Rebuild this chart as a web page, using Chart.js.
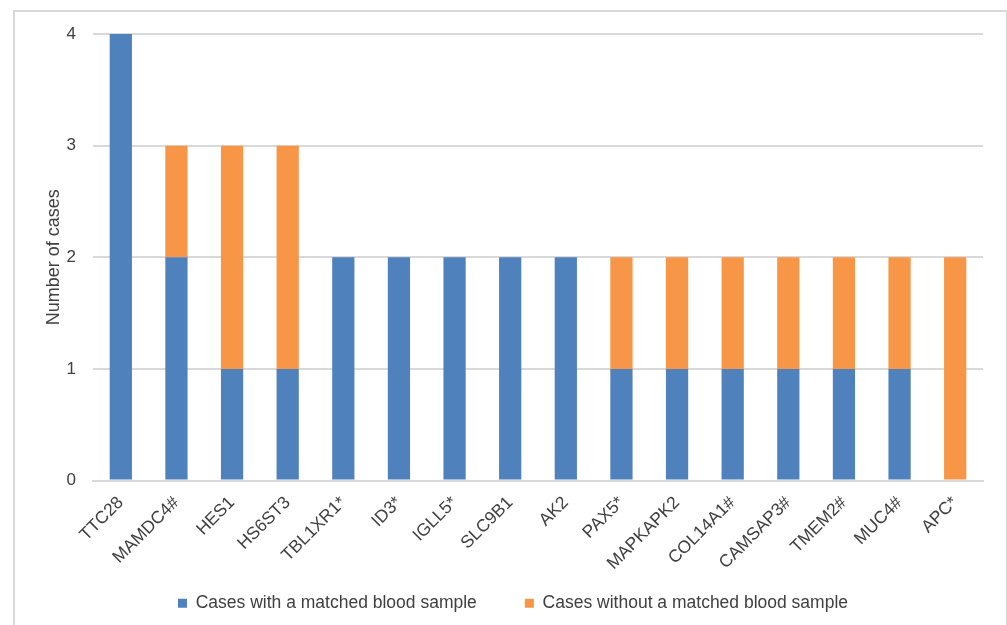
<!DOCTYPE html>
<html>
<head>
<meta charset="utf-8">
<script src="https://cdn.jsdelivr.net/npm/chart.js@4/dist/chart.umd.min.js"></script>
<style>
	html, body { margin: 0; padding: 0; background: #fff; }
	#frame { position: absolute; left: 13px; top: 10px; width: 991px; height: 620px; border: 2px solid #d9d9d9; }
	#wrap { position: absolute; left: 0; top: 0; width: 1007px; height: 625px; }
</style>
</head>
<body>
<div id="frame"></div>
<div id="wrap"><canvas id="barChart" width="1007" height="625"></canvas></div>
<script>
// genes on the x axis
var genes = ['TTC28', 'MAMDC4#', 'HES1', 'HS6ST3', 'TBL1XR1*', 'ID3*', 'IGLL5*', 'SLC9B1', 'AK2', 'PAX5*', 'MAPKAPK2', 'COL14A1#', 'CAMSAP3#', 'TMEM2#', 'MUC4#', 'APC*'];
// number of cases per gene
var withBlood = [4, 2, 1, 1, 2, 2, 2, 2, 2, 1, 1, 1, 1, 1, 1, 0];
var withoutBlood = [0, 1, 2, 2, 0, 0, 0, 0, 0, 1, 1, 1, 1, 1, 1, 2];
var yTicks = [0, 1, 2, 3, 4];

// let the rotated gene names run down past the axis box (they sit above the legend text anyway)
var labelRoom = {
	id: 'labelRoom',
	afterLayout: function (c) {
		c.scales.x.bottom = c.height;
	}
};

var ctx = document.getElementById('barChart').getContext('2d');
var chart = new Chart(ctx, {
	type: 'bar',
	data: {
		labels: genes,
		datasets: [{
				label: 'Cases with a matched blood sample',
				backgroundColor: '#4f81bd',
				data: withBlood
			},
			{
				label: 'Cases without a matched blood sample',
				backgroundColor: '#f79646',
				data: withoutBlood
			}
		]
	},
	options: {
		responsive: false,
		animation: false,
		layout: { padding: { left: 43, right: 24, top: 34, bottom: 3 } },
		datasets: { bar: { categoryPercentage: 1, barPercentage: 0.4 } },
		plugins: {
			legend: {
				position: 'bottom',
				labels: {
					boxWidth: 9,
					boxHeight: 9,
					padding: 48,
					color: '#404040',
					font: { family: 'Liberation Sans', size: 17.5 }
				}
			},
			tooltip: { enabled: false }
		},
		scales: {
			x: {
				stacked: true,
				afterFit: function (axis) { axis.height = 66; },
				grid: { display: false, drawTicks: false },
				border: { color: '#d9d9d9', width: 2 },
				ticks: {
					minRotation: 45,
					maxRotation: 45,
					padding: 12,
					color: '#404040',
					font: { family: 'Liberation Sans', size: 17.5 }
				}
			},
			y: {
				stacked: true,
				min: 0,
				max: 4,
				afterBuildTicks: function (axis) {
					axis.ticks = yTicks.map(function (v) { return { value: v }; });
				},
				afterFit: function (axis) { axis.width = 50; },
				grid: { color: '#d9d9d9', lineWidth: 2, drawTicks: false },
				border: { display: false },
				ticks: {
					padding: 17,
					color: '#404040',
					font: { family: 'Liberation Sans', size: 17 }
				},
				title: {
					display: true,
					text: 'Number of cases',
					color: '#404040',
					padding: { top: 2 },
					font: { family: 'Liberation Sans', size: 18, lineHeight: 1 }
				}
			}
		}
	},
	plugins: [labelRoom]
});
</script>
</body>
</html>
